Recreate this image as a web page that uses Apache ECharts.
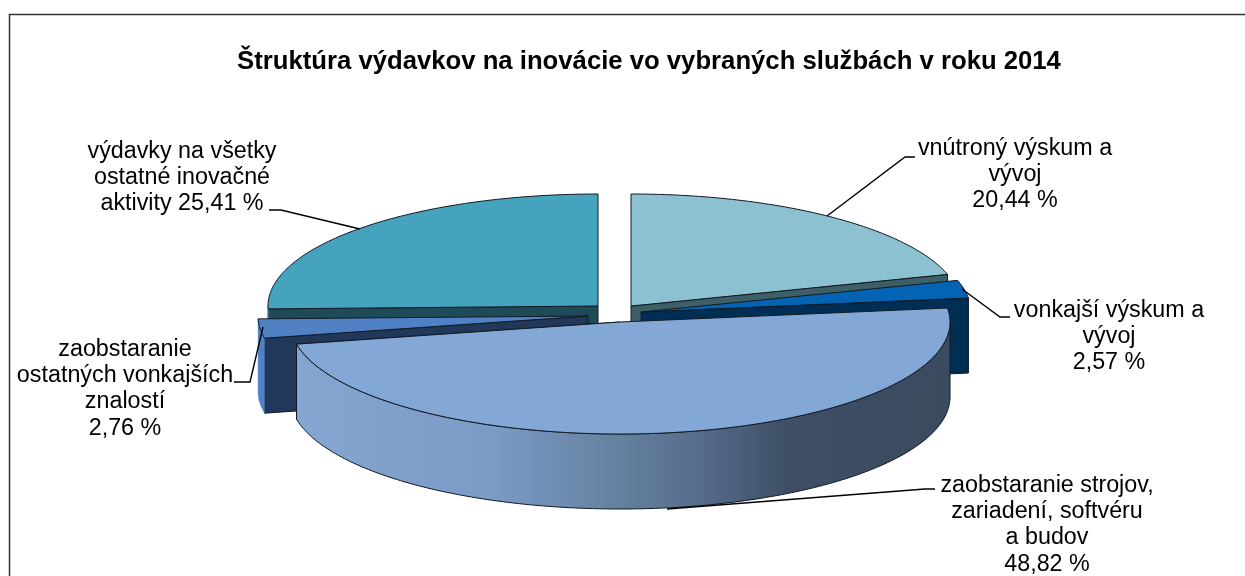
<!DOCTYPE html>
<html>
<head>
<meta charset="utf-8">
<style>
  html, body { margin: 0; padding: 0; background: #fff; }
  #chart { width: 1245px; height: 576px; }
</style>
<script src="https://cdn.jsdelivr.net/npm/echarts@6/dist/echarts.min.js"></script>
</head>
<body>
<div id="chart"></div>
<script>
const chartTitle = 'Štruktúra výdavkov na inovácie vo vybraných službách v roku 2014'
const categories = [
  'vnútroný výskum a\nvývoj',
  'vonkajší výskum a\nvývoj',
  'zaobstaranie strojov,\nzariadení, softvéru\na budov',
  'zaobstaranie\nostatných vonkajších\nznalostí',
  'výdavky na všetky\nostatné inovačné\naktivity'
]
const seriesValues = [20.44, 2.57, 48.82, 2.76, 25.41]

// layout of the exploded 3d pie
const RX = 330
const RY = 112
const DEPTH = 75
const centers = [[631, 306], [641, 312], [620, 322], [588, 316], [598, 306]]
const drawOrder = [4, 0, 1, 3, 2]
const topColors = ['#8bc1d0', '#0563b4', '#84a8d6', '#4f81c4', '#46a3bd']
const faceColors = ['#3f5f66', '#012e55', '#3b4b60', '#21385a', '#1f4a57']
const labelBoxes = [[1015, 135], [1109, 297], [1047, 472], [125, 336], [182, 138]]
const valueBreaks = ['\n', '\n', '\n', '\n', ' ']
const leaders = [
  [[915, 157], [905, 157], [827, 216]],
  [[1010, 317], [1000, 317], [962, 289]],
  [[935, 489], [925, 489], [667, 509]],
  [[234, 382], [250, 382], [263, 327]],
  [[269, 210], [281, 210], [360, 229]]
]

const total = seriesValues.reduce((a, b) => a + b, 0)
let running = 0
const angles = seriesValues.map(v => {
  const start = running / total * 360
  running += v
  return [start, running / total * 360]
})

const point = (i, deg, drop = 0) => {
  const r = deg * Math.PI / 180
  return [centers[i][0] + RX * Math.sin(r), centers[i][1] - RY * Math.cos(r) + drop]
}

const arc = (i, from, to, drop = 0) => {
  const pts = []
  const steps = Math.max(2, Math.ceil(Math.abs(to - from)))
  for (let k = 0; k <= steps; k++) pts.push(point(i, from + (to - from) * k / steps, drop))
  return pts
}

const wallFill = i => {
  if (i !== 2) return topColors[i]
  return new echarts.graphic.LinearGradient(0, 0, 1, 0, [
    { offset: 0, color: '#86a6d2' },
    { offset: 0.3, color: '#7b9ac5' },
    { offset: 0.5, color: '#64809f' },
    { offset: 0.62, color: '#566b8a' },
    { offset: 0.75, color: '#3e4f66' },
    { offset: 1, color: '#3a4a5f' }
  ])
}

const poly = (points, fill, stroke) => ({
  type: 'polygon',
  shape: { points },
  style: { fill, stroke: stroke || fill, lineWidth: stroke ? 1 : 0.5 }
})

const renderSlice = (params, api) => {
  const i = api.value(1)
  const [a0, a1] = angles[i]
  const children = []

  // radial wall that faces the viewer
  const faceAngle = a0 > 180 ? a0 : a1
  const [cx, cy] = centers[i]
  const edge = point(i, faceAngle)
  children.push(poly([[cx, cy], edge, [edge[0], edge[1] + DEPTH], [cx, cy + DEPTH]], faceColors[i], '#111a24'))

  // outer wall, front half of the ellipse only
  const wallFrom = Math.max(a0, 90)
  const wallTo = Math.min(a1, 270)
  if (wallTo > wallFrom) {
    const wall = arc(i, wallFrom, wallTo).concat(arc(i, wallTo, wallFrom, DEPTH))
    children.push(poly(wall, wallFill(i), i === 2 ? '#111a24' : null))
  }

  // top face
  children.push(poly([[cx, cy]].concat(arc(i, a0, a1)), topColors[i], '#111a24'))
  return { type: 'group', children }
}

const renderLabel = (params, api) => {
  const i = api.value(1)
  const text = categories[i] + valueBreaks[i] + api.value(0).toFixed(2).replace('.', ',') + ' %'
  return {
    type: 'group',
    children: [
      {
        type: 'polyline',
        shape: { points: leaders[i] },
        style: { fill: 'none', stroke: '#000', lineWidth: 1.4 }
      },
      {
        type: 'text',
        x: labelBoxes[i][0],
        y: labelBoxes[i][1],
        style: {
          text,
          fill: '#000',
          font: '23.3px "Liberation Sans", Arial, sans-serif',
          lineHeight: 26.4,
          align: 'center',
          verticalAlign: 'top'
        }
      }
    ]
  }
}

const chart = echarts.init(document.getElementById('chart'), null, { renderer: 'canvas' })

chart.setOption({
  animation: false,
  backgroundColor: '#ffffff',
  title: {
    text: chartTitle,
    left: 644,
    top: 44,
    textAlign: 'center',
    textStyle: {
      color: '#000',
      fontFamily: '"Liberation Sans", Arial, sans-serif',
      fontSize: 25.7,
      fontWeight: 'bold'
    }
  },
  graphic: [
    {
      type: 'polyline',
      shape: { points: [[9.5, 576], [9.5, 14.5], [1245, 14.5]] },
      style: { fill: 'none', stroke: '#333', lineWidth: 1.5 }
    }
  ],
  series: [
    {
      type: 'custom',
      coordinateSystem: 'none',
      silent: true,
      data: drawOrder.map(i => [seriesValues[i], i]),
      renderItem: renderSlice,
      z: 2
    },
    {
      type: 'custom',
      coordinateSystem: 'none',
      silent: true,
      data: seriesValues.map((v, i) => [v, i]),
      renderItem: renderLabel,
      z: 3
    }
  ]
})
</script>
</body>
</html>
